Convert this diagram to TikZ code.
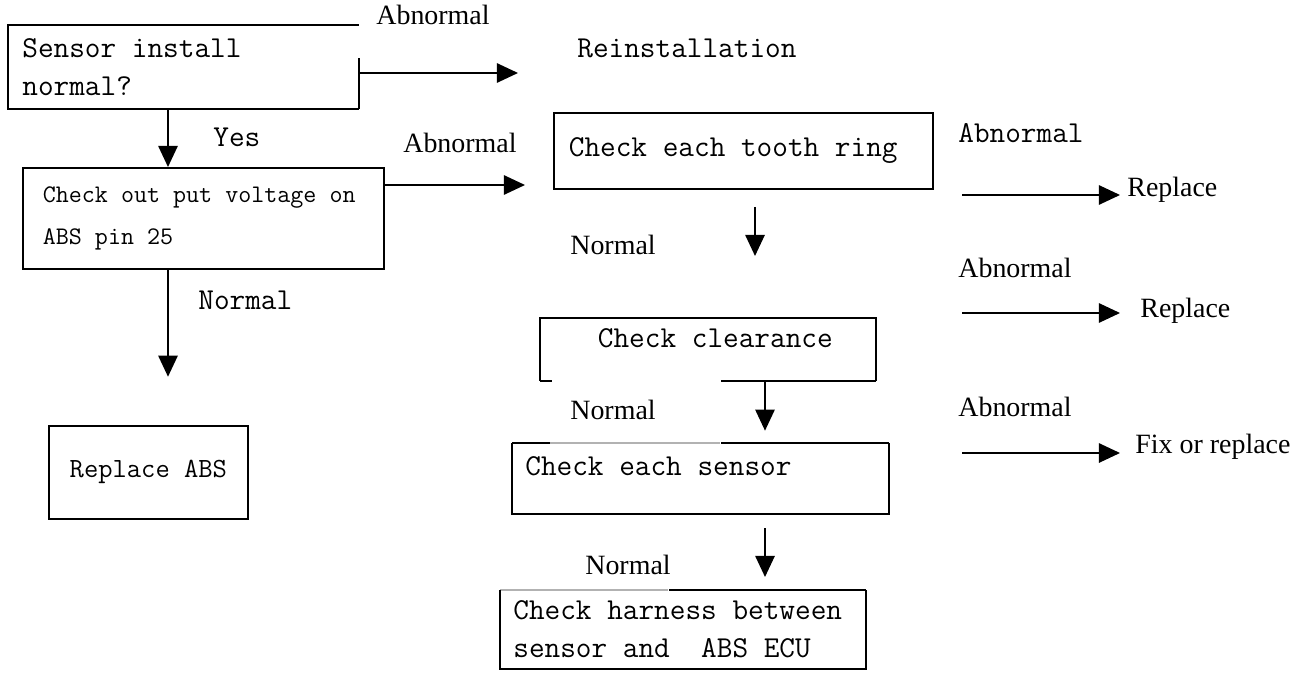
\documentclass[tikz,border=0pt]{standalone}
\usepackage{fontspec}
\setmainfont{Liberation Serif}
\usepackage{tikz}
\usetikzlibrary{arrows.meta, positioning}

\begin{document}
\begin{tikzpicture}[
  x=0.02cm, y=-0.02cm,
  box/.style={rectangle, anchor=north west, inner ysep=0pt,
              align=flush left, font=\ttfamily\fontsize{17.3}{21.6}\selectfont},
  edge/.style={draw=black, line width=1pt},
  faint/.style={draw=black!30, line width=0.7pt},
  tag/.style={anchor=west, inner sep=0pt, font=\fontsize{15.9}{19}\selectfont},
  ttag/.style={anchor=west, inner sep=0pt, font=\ttfamily\fontsize{17.3}{20}\selectfont},
  arrow/.style={-{Triangle[length=12pt, width=11pt]}, line width=1pt}
]
\useasboundingbox (0,0) rectangle (1307,675);

% Left column
\node[box, minimum width=7cm, minimum height=1.66cm, text width=6.44cm,
      inner xsep=0.28cm] (install) at (8,25) {Sensor install\\normal?};
\node[box, draw, line width=1pt, minimum width=7.22cm, minimum height=2.02cm,
      text width=6.42cm, inner xsep=0.4cm,
      font=\ttfamily\fontsize{14.4}{23.9}\selectfont] (voltage) at (22,167)
      {Check out put voltage on\\ABS pin 25};
\node[box, draw, line width=1pt, minimum width=3.98cm, minimum height=1.86cm,
      text width=3.98cm, inner xsep=0pt, align=flush center,
      font=\ttfamily\fontsize{15.8}{19}\selectfont] (replabs) at (48,425)
      {Replace ABS};

% Middle column
\node[box, draw, line width=1pt, minimum width=7.58cm, minimum height=1.52cm,
      text width=6.98cm, inner xsep=0.3cm] (tooth) at (553,112)
      {Check each tooth ring};
\node[box, minimum width=6.7cm, minimum height=1.24cm, text width=6.5cm,
      inner xsep=0.1cm, align=flush center, text depth=0.45cm] (clearance) at (540,318)
      {\hspace*{0.3cm}Check clearance};
\node[box, minimum width=7.52cm, minimum height=1.4cm, text width=7cm,
      inner xsep=0.26cm, text depth=0.5cm] (sensorbox) at (512,443)
      {Check each sensor};
\node[box, minimum width=7.3cm, minimum height=1.56cm, text width=6.78cm,
      inner xsep=0.26cm] (harness) at (500,590)
      {Check harness between\\sensor and\ \ ABS ECU};

% Labels
\node[tag, anchor=center] (abnA) at (433,15) {Abnormal};
\node[ttag] (reinst) at (577,48) {Reinstallation};
\node[ttag] (yes) at (213,137) {Yes};
\node[tag] (abnB) at (403,143) {Abnormal};
\node[ttag] (normA) at (198,300) {Normal};
\node[ttag] (abnC) at (958,133) {Abnormal};
\node[tag] (replA) at (1127,190) {Replace};
\node[tag] (normB) at (570,245) {Normal};
\node[tag] (abnD) at (958,268) {Abnormal};
\node[tag] (replB) at (1140,311) {Replace};
\node[tag] (normC) at (570,410) {Normal};
\node[tag] (abnE) at (958,407) {Abnormal};
\node[tag] (fix) at (1135,447) {Fix or replace};
\node[tag] (normD) at (585,565) {Normal};

% Broken frames
\draw[edge] (install.south east) -- ++(0,-51);
\draw[edge] (install.south east) -- (install.south west)
  -- (install.north west) -- (install.north east);
\draw[edge] (clearance.south west) -- ++(12,0);
\draw[edge] (clearance.south east) -- ++(-155,0);
\draw[edge] (clearance.south west) -- (clearance.north west)
  -- (clearance.north east) -- (clearance.south east);
\draw[edge] (sensorbox.north west) -- ++(38,0);
\draw[faint] (sensorbox.north west) ++(38,0) -- ++(170,0);
\draw[edge] (sensorbox.north east) -- ++(-168,0);
\draw[edge] (sensorbox.north east) -- (sensorbox.south east)
  -- (sensorbox.south west) -- (sensorbox.north west);
\draw[faint] (harness.north west) -- ++(168,0);
\draw[edge] (harness.north east) -- ++(-197,0);
\draw[edge] (harness.north east) -- (harness.south east)
  -- (harness.south west) -- (harness.north west);

% Arrows
\coordinate (mainx) at (168,0);
\coordinate (toreinst) at (518,73);
\coordinate (totooth) at (525,185);
\coordinate (dA) at (755,207);
\coordinate (dB) at (765,0);
\coordinate (dC) at (765,528);
\coordinate (rA) at (962,195);
\coordinate (rB) at (962,313);
\coordinate (rC) at (962,453);
\draw[arrow] (install.east |- toreinst) -- (toreinst);
\draw[arrow] (mainx |- install.south) -- (mainx |- voltage.north);
\draw[arrow] (voltage.east |- totooth) -- (totooth);
\draw[arrow] (mainx |- voltage.south) -- ++(0,107);
\draw[arrow] (dA) -- ++(0,49);
\draw[arrow] (dB |- clearance.south) -- ++(0,50);
\draw[arrow] (dC) -- ++(0,49);
\draw[arrow, shorten >=0.14cm] (rA) -- (replA.west |- rA);
\draw[arrow, shorten >=0.4cm] (rB) -- (replB.west |- rB);
\draw[arrow, shorten >=0.3cm] (rC) -- (fix.west |- rC);
\end{tikzpicture}
\end{document}
